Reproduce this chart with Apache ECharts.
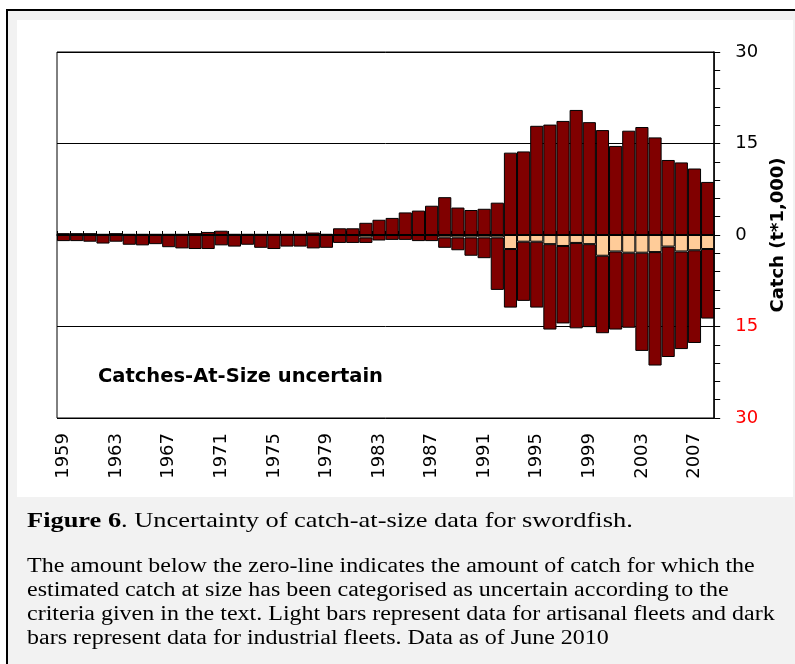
<!DOCTYPE html>
<html>
<head>
<meta charset="utf-8">
<script src="https://cdn.jsdelivr.net/npm/echarts@6/dist/echarts.min.js"></script>
<style>
  html, body { margin: 0; padding: 0; background: #fff; }
  #main { width: 795px; height: 664px; }
</style>
</head>
<body>
<div id="main"></div>
<script>
// 1959 .. 2008
const years = [];
for (let y = 1959; y <= 2008; y++) years.push(String(y));

// catch (t*1,000) above zero: industrial, size known
const certain = [
  0.3, 0.3, 0.3, 0.2, 0.3, 0.2, 0.2, 0.2, 0.2, 0.2,
  0.3, 0.5, 0.7, 0.2, 0.2, 0.2, 0.2, 0.2, 0.2, 0.4,
  0.2, 1.1, 1.1, 2.0, 2.5, 2.8, 3.7, 4.0, 4.8, 6.2,
  4.5, 4.1, 4.3, 5.3, 13.5, 13.7, 17.9, 18.1, 18.7, 20.5,
  18.5, 17.2, 14.6, 17.1, 17.7, 16.0, 12.3, 11.9, 10.9, 8.7
];

// below zero: size uncertain, artisanal (light)
const artisanal = [
  0, 0, 0, 0, 0, 0, 0, 0, 0, 0,
  0, 0, 0, 0, 0, 0, 0, 0, 0, 0,
  0, 0, 0, -0.4, 0, 0, 0, 0, 0, -0.4,
  -0.4, -0.4, -0.4, -0.4, -2.3, -1.1, -1.1, -1.5, -1.8, -1.3,
  -1.5, -3.4, -2.7, -2.9, -2.9, -2.8, -1.9, -2.7, -2.5, -2.3
];

// below zero: size uncertain, industrial (dark)
const industrial = [
  -1.0, -1.0, -1.1, -1.4, -1.1, -1.6, -1.7, -1.5, -2.0, -2.2,
  -2.3, -2.3, -1.7, -1.9, -1.6, -2.1, -2.3, -1.9, -1.9, -2.2,
  -2.1, -1.3, -1.3, -0.9, -0.9, -0.8, -0.8, -1.0, -1.0, -1.7,
  -2.1, -3.0, -3.4, -8.6, -9.6, -9.7, -10.8, -14.0, -12.7, -14.0,
  -13.6, -12.7, -12.8, -12.3, -16.1, -18.6, -18.1, -16.0, -15.2, -11.4
];

const DARK = '#800000';
const LIGHT = '#ffcc99';

function bars(name, data, color) {
  return {
    name: name,
    type: 'bar',
    stack: 'c',
    barCategoryGap: '0%',
    data: data.map((v) => (v === 0 ? '-' : v)),
    itemStyle: { color: color, borderColor: '#000', borderWidth: 1 },
    emphasis: { disabled: true },
  };
}

const serif = '"Liberation Serif", "Times New Roman", serif';
const sans = '"DejaVu Sans", Verdana, sans-serif';

const captionLines = [
  'The amount below the zero-line indicates the amount of catch for which the',
  'estimated catch at size has been categorised as uncertain according to the',
  'criteria given in the text. Light bars represent data for artisanal fleets and dark',
  'bars represent data for industrial fleets. Data as of June 2010',
];

const graphics = [
  {
    type: 'rect', z: -10, silent: true,
    shape: { x: 7, y: 10, width: 820, height: 700 },
    style: { fill: '#f2f2f2', stroke: '#000', lineWidth: 2 },
  },
  {
    type: 'rect', z: -9, silent: true,
    shape: { x: 17, y: 20, width: 776, height: 477 },
    style: { fill: '#fff' },
  },
  {
    type: 'text', x: 98, y: 377, z: 10,
    style: {
      text: 'Catches-At-Size uncertain',
      font: 'bold 19.5px ' + sans,
      fill: '#000',
      verticalAlign: 'middle',
    },
  },
  {
    type: 'text', x: 27, y: 521, scaleX: 1.2,
    style: {
      text: '{b|Figure 6}. Uncertainty of catch-at-size data for swordfish.',
      fontFamily: serif, fontSize: 22, fill: '#000',
      verticalAlign: 'middle',
      rich: { b: { fontFamily: serif, fontSize: 22, fontWeight: 'bold' } },
    },
  },
];
captionLines.forEach((t, i) => {
  graphics.push({
    type: 'text', x: 27, y: 567 + i * 24, scaleX: 1.2,
    style: { text: t, fontFamily: serif, fontSize: 20, fill: '#000', verticalAlign: 'middle' },
  });
});

const chart = echarts.init(document.getElementById('main'));
chart.setOption({
  animation: false,
  backgroundColor: '#fff',
  grid: {
    left: 57, top: 52, width: 661, height: 366,
    show: true, backgroundColor: '#fff', borderColor: '#000', borderWidth: 1,
  },
  xAxis: {
    type: 'category',
    data: years,
    boundaryGap: true,
    axisLine: { lineStyle: { color: '#000', width: 1.5 } },
    axisTick: { show: true, inside: true, length: 4, interval: 0, lineStyle: { color: '#000' } },
    axisLabel: {
      interval: 3, rotate: 90, margin: 15,
      fontFamily: sans, fontSize: 18, color: '#000',
    },
  },
  yAxis: {
    type: 'value',
    position: 'right',
    min: -30, max: 30, interval: 15,
    axisLine: { show: true, lineStyle: { color: '#000', width: 1.5 } },
    axisTick: { show: true, length: 6, lineStyle: { color: '#000' } },
    minorTick: { show: true, splitNumber: 5, length: 6, lineStyle: { color: '#000' } },
    splitLine: { show: true, lineStyle: { color: '#000', width: 1 } },
    axisLabel: {
      margin: 21, fontFamily: sans, fontSize: 18,
      formatter: (v) => String(Math.abs(v)),
      color: (v) => (Number(v) < 0 ? '#ff0000' : '#000'),
    },
    name: 'Catch (t*1,000)',
    nameLocation: 'middle',
    nameRotate: 90,
    nameGap: 52,
    nameTextStyle: { fontFamily: sans, fontSize: 18, fontWeight: 'bold', color: '#000' },
  },
  series: [
    bars('Industrial, size known', certain, DARK),
    bars('Artisanal, size uncertain', artisanal, LIGHT),
    bars('Industrial, size uncertain', industrial, DARK),
  ],
  graphic: graphics,
});
</script>
</body>
</html>
